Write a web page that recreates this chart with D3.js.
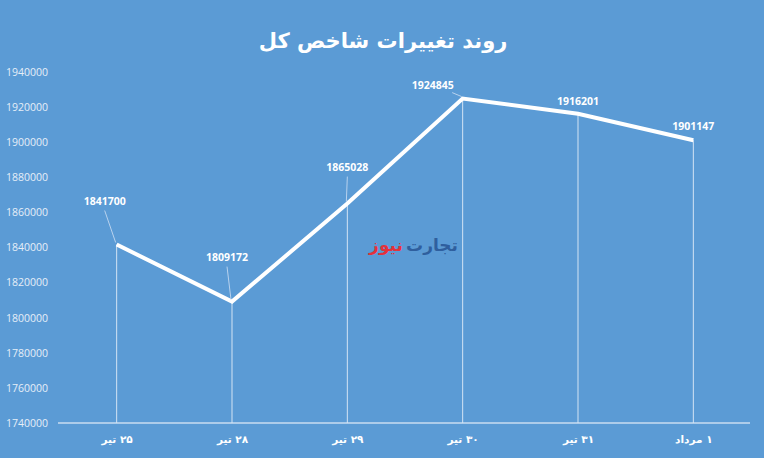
<!DOCTYPE html>
<html>
<head>
<meta charset="utf-8">
<script src="https://cdn.jsdelivr.net/npm/d3@7"></script>
<style>
  html, body { margin: 0; padding: 0; background: #fff; }
  svg { display: block; }
</style>
</head>
<body>
<div id="chart"></div>
<script>
// data
const categories = ["۲۵ تیر", "۲۸ تیر", "۲۹ تیر", "۳۰ تیر", "۳۱ تیر", "۱ مرداد"];
const values = [1841700, 1809172, 1865028, 1924845, 1916201, 1901147];
const yTicks = [1740000, 1760000, 1780000, 1800000, 1820000, 1840000, 1860000, 1880000, 1900000, 1920000, 1940000];
const title = "روند تغییرات شاخص کل";

// label placement (dx, dy from the point), some labels sit off to the side with a leader line
const labelOffsets = [[-12, -44], [-5, -45], [0, -37], [-30, -14], [0, -13], [0, -14]];

const width = 768, height = 460;
const bgW = 764, bgH = 458;

const svg = d3.select("#chart").append("svg")
  .attr("width", width)
  .attr("height", height);

svg.append("rect")
  .attr("x", 0).attr("y", 0)
  .attr("width", bgW).attr("height", bgH)
  .attr("fill", "#5b9bd5");

const x = d3.scalePoint().domain(categories).range([59, 751]).padding(0.5);
const y = d3.scaleLinear().domain([1740000, 1940000]).range([423, 72]);

// title
svg.append("text")
  .attr("x", 383).attr("y", 48)
  .attr("text-anchor", "middle")
  .attr("font-family", "DejaVu Sans")
  .attr("font-weight", "bold")
  .attr("font-size", 21)
  .attr("fill", "#fff")
  .text(title);

// y axis labels only
const yAxis = d3.axisLeft(y).tickValues(yTicks).tickSize(0).tickPadding(0).tickFormat(d3.format("d"));
const gy = svg.append("g").attr("transform", "translate(48,0)").call(yAxis);
gy.select(".domain").remove();
gy.selectAll("text")
  .attr("font-family", "Open Sans, Liberation Sans, sans-serif")
  .attr("font-size", 10.5)
  .attr("fill", "#e6eef8");

// x axis (rtl so the day number sits on the right like the original)
const xAxis = d3.axisBottom(x).tickSize(0).tickPadding(13);
const gx = svg.append("g").attr("transform", "translate(0,423)").call(xAxis);
gx.select(".domain").attr("stroke", "#c9dcf0").attr("stroke-width", 1.5).attr("d", "M58,0H750");
gx.selectAll("text")
  .attr("direction", "rtl")
  .attr("font-family", "DejaVu Sans")
  .attr("font-weight", "bold")
  .attr("font-size", 10.5)
  .attr("fill", "#fff");

// drop lines
svg.append("g")
  .selectAll("line")
  .data(values)
  .join("line")
  .attr("x1", (d, i) => x(categories[i]))
  .attr("x2", (d, i) => x(categories[i]))
  .attr("y1", d => y(d))
  .attr("y2", y(1740000))
  .attr("stroke", "#d4e4f4")
  .attr("stroke-width", 1);

// watermark
const wm = svg.append("g").attr("font-family", "DejaVu Sans").attr("font-weight", "bold").attr("font-size", 17).attr("text-anchor", "middle");
wm.append("text").attr("x", 432).attr("y", 251).attr("fill", "#2f5f9e").text("تجارت");
wm.append("text").attr("x", 386).attr("y", 251).attr("fill", "#e4313b").text("نیوز");

// main line
const line = d3.line()
  .x((d, i) => x(categories[i]))
  .y(d => y(d));

svg.append("path")
  .datum(values)
  .attr("d", line)
  .attr("fill", "none")
  .attr("stroke", "#fff")
  .attr("stroke-width", 4)
  .attr("stroke-linejoin", "miter");

// leader lines for offset labels
svg.append("g")
  .selectAll("line")
  .data(values)
  .join("line")
  .filter((d, i) => Math.abs(labelOffsets[i][0]) > 0 || labelOffsets[i][1] < -30)
  .attr("x1", (d, i) => x(categories[i]) + labelOffsets[i][0] * (labelOffsets[i][0] < -20 ? 0.35 : 1))
  .attr("y1", (d, i) => y(d) + labelOffsets[i][1] + (labelOffsets[i][0] < -20 ? 8 : 10))
  .attr("x2", (d, i) => x(categories[i]) - 1)
  .attr("y2", (d, i) => y(d) - 2)
  .attr("stroke", "#b8d2ee")
  .attr("stroke-width", 1);

// data labels
svg.append("g")
  .selectAll("text")
  .data(values)
  .join("text")
  .attr("x", (d, i) => x(categories[i]) + labelOffsets[i][0])
  .attr("y", (d, i) => y(d) + labelOffsets[i][1] + 4)
  .attr("text-anchor", "middle")
  .attr("font-family", "Open Sans, Liberation Sans, sans-serif")
  .attr("font-weight", "bold")
  .attr("font-size", 10.5)
  .attr("fill", "#fff")
  .text(d => d);
</script>
</body>
</html>
